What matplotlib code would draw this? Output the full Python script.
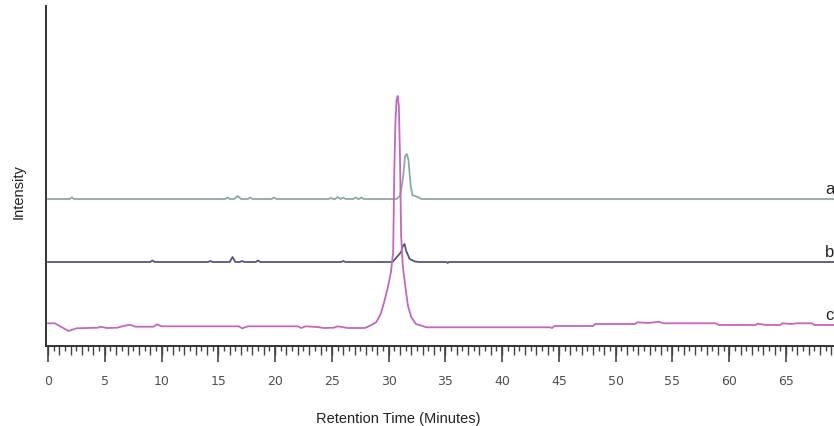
import numpy as np
import matplotlib.pyplot as plt
from matplotlib.ticker import MultipleLocator, NullLocator, NullFormatter, FixedLocator

# retention time [min] and intensity (arbitrary units)
a_time = [0, 1.9, 2.1, 2.3, 15.6, 15.8, 16.0, 16.4, 16.7, 17.0, 17.6, 17.8, 18.0,
          19.7, 19.9, 20.1, 24.7, 24.9, 25.1, 25.3, 25.5, 25.7, 25.8, 26.0, 26.2,
          26.9, 27.1, 27.3, 27.4, 27.6, 27.8, 30.7, 31.0, 31.2, 31.3, 31.45, 31.6,
          31.75, 31.85, 31.95, 32.1, 32.55, 32.9, 69.5]
a_int = [147, 147, 148.5, 147, 147, 148.5, 147, 147, 150, 147, 147, 148.5, 147,
         147, 148.5, 147, 147, 148, 147, 147, 149, 147.5, 147, 148.5, 147,
         147, 148.5, 147, 147, 148.5, 147, 147, 150, 163, 172, 190, 192,
         186, 172, 160, 151, 149, 147, 147]

b_time = [0, 9.0, 9.2, 9.4, 14.1, 14.3, 14.5, 16.0, 16.25, 16.5, 16.9, 17.1, 17.3,
          18.3, 18.5, 18.7, 25.8, 26.0, 26.2, 30.35, 30.8, 31.1, 31.25, 31.4, 31.55,
          31.85, 32.3, 32.7, 35.1, 35.2, 35.3, 69.5]
b_int = [84, 84, 85.5, 84, 84, 85, 84, 84, 89, 84, 84, 85, 84,
         84, 85.5, 84, 84, 85, 84, 84, 90, 94, 100, 102, 95,
         87, 84.5, 84, 84, 83, 84, 84]

c_time = [0, 0.6, 1.8, 2.5, 4.4, 4.6, 5.2, 6.1, 6.4, 7.2, 7.7, 9.3, 9.6, 10.0,
          16.8, 17.1, 17.6, 22.0, 22.3, 22.7, 23.7, 24.3, 25.2, 25.5, 26.4, 27.9,
          28.3, 28.9, 29.3, 29.6, 29.9, 30.2, 30.4, 30.5, 30.6, 30.7, 30.8, 30.9,
          31.0, 31.1, 31.25, 31.5, 31.7, 32.0, 32.4, 33.0, 33.3, 44.2, 44.4, 44.6,
          48.0, 48.2, 51.7, 51.9, 52.9, 53.8, 54.2, 58.8, 59.1, 62.3, 62.5, 63.2,
          64.5, 64.7, 65.5, 65.9, 67.3, 67.5, 69.5]
c_int = [22.7, 22.7, 15, 17.7, 18.3, 19.3, 18, 18.3, 19.3, 21.3, 19.3, 19.3, 21.7, 19.7,
         19.7, 17.7, 19.7, 19.7, 18, 19.7, 19, 18, 18.3, 19.7, 18, 18,
         20, 23.7, 32, 43.7, 57, 73.7, 94, 175, 225, 246, 250, 240,
         190, 110, 80, 57, 40.3, 28.7, 22, 20, 18.7, 18.7, 18, 20,
         20, 22, 22, 23.7, 23, 24.3, 22.7, 22.7, 21, 21, 22.3, 21,
         21, 22.7, 22, 22.7, 22.7, 21, 21]

label_ticks = list(range(0, 70, 5))

traces = [("a", a_time, a_int, "#8aaaa2"),
          ("b", b_time, b_int, "#56567a"),
          ("c", c_time, c_int, "#c466c4")]

fig = plt.figure(figsize=(8.34, 4.27), dpi=100)
ax = fig.add_axes([46 / 834, 80 / 427, 788 / 834, 340 / 427])

for name, t, y, col in traces:
    ax.plot(t, y, color=col, lw=1.3)
    ax.text(68.45, y[-1] + 3, name, fontsize=12, color="#222222",
            ha="left", va="bottom", family="Liberation Sans", clip_on=False)

ax.set_xlim(-0.18, 69.23)
ax.set_ylim(0, 340)

for s in ("top", "right"):
    ax.spines[s].set_visible(False)
for s in ("left", "bottom"):
    ax.spines[s].set_color("#333333")
    ax.spines[s].set_linewidth(1.4)

ax.set_yticks([])
# whole minutes (medium) and half minutes (short) on the main axis
ax.xaxis.set_major_locator(MultipleLocator(1))
ax.xaxis.set_major_formatter(NullFormatter())
ax.xaxis.set_minor_locator(MultipleLocator(0.5))
ax.tick_params(axis="x", which="major", length=6.2, width=1.0, color="#444444")
ax.tick_params(axis="x", which="minor", length=3.4, width=1.0, color="#444444")

# long labelled ticks every 5 minutes
sec = ax.secondary_xaxis("bottom")
sec.spines["bottom"].set_visible(False)
sec.xaxis.set_major_locator(FixedLocator(label_ticks))
sec.xaxis.set_minor_locator(NullLocator())
sec.tick_params(axis="x", which="major", length=11.3, width=1.2, color="#444444",
                labelsize=9, labelcolor="#505050", pad=9)

ax.set_xlabel("Retention Time (Minutes)", fontsize=10.5, family="Liberation Sans",
              color="#222222")
ax.xaxis.set_label_coords(0.447, -0.19)
ax.set_ylabel("Intensity", fontsize=10.5, family="Liberation Sans", color="#222222")
ax.yaxis.set_label_coords(-0.026, 0.456)

plt.savefig("out.png", dpi=100)
